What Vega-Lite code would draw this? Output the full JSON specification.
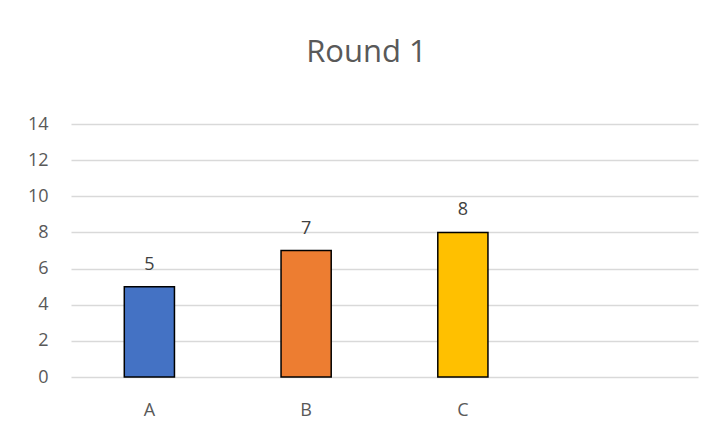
{
  "$schema": "https://vega.github.io/schema/vega-lite/v6.json",
  "autosize": {"type": "none"},
  "width": 627,
  "height": 253,
  "padding": {"left": 71, "top": 124, "right": 21, "bottom": 58},
  "background": "white",
  "title": {
    "text": "Round 1",
    "font": "Open Sans",
    "fontSize": 31,
    "fontWeight": "normal",
    "color": "#595959",
    "anchor": "middle",
    "frame": "group",
    "baseline": "alphabetic",
    "offset": 22,
    "dx": -18
  },
  "data": {
    "values": [
      {"category": "A", "value": 5},
      {"category": "B", "value": 7},
      {"category": "C", "value": 8}
    ]
  },
  "encoding": {
    "x": {
      "field": "category",
      "type": "nominal",
      "scale": {"domain": ["A", "B", "C", " "], "paddingInner": 0.68, "paddingOuter": 0.34},
      "axis": {
        "title": null,
        "labelAngle": 0,
        "ticks": false,
        "domain": false,
        "labelFont": "Open Sans",
        "labelFontSize": 18,
        "labelColor": "#595959",
        "labelBaseline": "alphabetic",
        "labelPadding": 38
      }
    },
    "y": {
      "field": "value",
      "type": "quantitative",
      "scale": {"domain": [0, 14], "nice": false},
      "axis": {
        "title": null,
        "values": [0, 2, 4, 6, 8, 10, 12, 14],
        "ticks": false,
        "domain": false,
        "grid": true,
        "gridColor": "#D9D9D9",
        "gridWidth": 1.3,
        "labelFont": "Open Sans",
        "labelFontSize": 18,
        "labelColor": "#595959",
        "labelPadding": 23
      }
    }
  },
  "layer": [
    {
      "mark": {"type": "bar", "stroke": "black", "strokeWidth": 1.5},
      "encoding": {
        "color": {
          "field": "category",
          "type": "nominal",
          "scale": {"domain": ["A", "B", "C"], "range": ["#4472C4", "#ED7D31", "#FFC000"]},
          "legend": null
        }
      }
    },
    {
      "mark": {"type": "text", "baseline": "alphabetic", "dy": -17, "font": "Open Sans", "fontSize": 18, "color": "#404040"},
      "encoding": {"text": {"field": "value", "type": "quantitative"}}
    }
  ],
  "config": {"view": {"stroke": null}}
}
